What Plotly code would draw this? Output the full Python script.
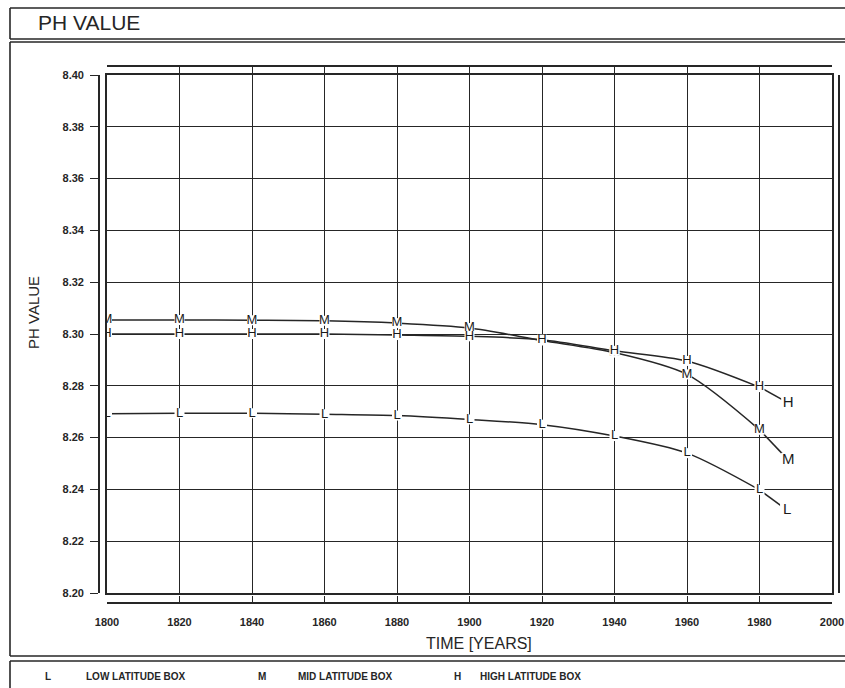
import plotly.graph_objects as go

# ---------------- data ----------------
years = [1800, 1820, 1840, 1860, 1880, 1900, 1920, 1940, 1960, 1980]
ph_low = [8.2692, 8.2694, 8.2694, 8.2690, 8.2685, 8.2670, 8.2650, 8.2606, 8.2540, 8.2398]
ph_mid = [8.3054, 8.3054, 8.3053, 8.3051, 8.3042, 8.3023, 8.2975, 8.2928, 8.2844, 8.2630]
ph_high = [8.3000, 8.3000, 8.3000, 8.3000, 8.2996, 8.2991, 8.2978, 8.2935, 8.2896, 8.2795]
series_letters = ["L", "M", "H"]
series_names = ["LOW LATITUDE BOX", "MID LATITUDE BOX", "HIGH LATITUDE BOX"]
end_label_years = [1987.6, 1987.9, 1987.9]
end_label_values = [8.2320, 8.2514, 8.2734]
x_ticks = [1800, 1820, 1840, 1860, 1880, 1900, 1920, 1940, 1960, 1980, 2000]
y_ticks = [8.20, 8.22, 8.24, 8.26, 8.28, 8.30, 8.32, 8.34, 8.36, 8.38, 8.40]
y_tick_text = ["8.20", "8.22", "8.24", "8.26", "8.28", "8.30", "8.32", "8.34", "8.36", "8.38", "8.40"]

W, H = 845, 688
INK = "#262626"
FONT = "Liberation Sans, Arial, sans-serif"


def px(x):
    return x / W


def py(y):
    return 1 - y / H


fig = go.Figure()

series = [ph_low, ph_mid, ph_high]

# curves
for vals in series:
    fig.add_trace(go.Scatter(x=years, y=vals, mode="lines",
                             line=dict(color=INK, width=1.5, shape="spline", smoothing=0.8),
                             hoverinfo="skip", showlegend=False))
# leader segments to end labels
for vals, lx, ly in zip(series, end_label_years, end_label_values):
    fig.add_trace(go.Scatter(x=[years[-1], lx], y=[vals[-1], ly], mode="lines",
                             line=dict(color=INK, width=1.5),
                             hoverinfo="skip", showlegend=False))
# letter markers
for vals, letter in zip(series, series_letters):
    fig.add_trace(go.Scatter(x=years, y=vals, mode="markers+text",
                             marker=dict(symbol="square", size=10, color="white", line=dict(width=0)),
                             text=[letter] * len(years), textposition="middle center",
                             textfont=dict(family=FONT, size=13, color="#1a1a1a"),
                             hoverinfo="skip", showlegend=False))
# end labels
fig.add_trace(go.Scatter(x=end_label_years, y=end_label_values, mode="markers+text",
                         marker=dict(symbol="square", size=14, color="white", line=dict(width=0)),
                         text=series_letters, textposition="middle center",
                         textfont=dict(family=FONT, size=15, color="#1a1a1a"),
                         hoverinfo="skip", showlegend=False))

# dummy traces so that the offset axes are drawn
fig.add_trace(go.Scatter(x=[None], y=[None], xaxis="x2", yaxis="y", showlegend=False, hoverinfo="skip"))
fig.add_trace(go.Scatter(x=[None], y=[None], xaxis="x3", yaxis="y", showlegend=False, hoverinfo="skip"))
fig.add_trace(go.Scatter(x=[None], y=[None], xaxis="x", yaxis="y2", showlegend=False, hoverinfo="skip"))
fig.add_trace(go.Scatter(x=[None], y=[None], xaxis="x", yaxis="y3", showlegend=False, hoverinfo="skip"))

xdom = [px(107), px(832)]
ydom = [py(593), py(75)]
xr = [x_ticks[0], x_ticks[-1]]
yr = [y_ticks[0], y_ticks[-1]]

fig.update_layout(
    width=W, height=H,
    margin=dict(l=0, r=0, t=0, b=0, pad=0),
    paper_bgcolor="white", plot_bgcolor="white",
    showlegend=False,
    xaxis=dict(domain=xdom, range=xr, tickvals=x_ticks, showticklabels=False, ticks="",
               showgrid=True, gridcolor=INK, gridwidth=1.2, zeroline=False,
               showline=True, mirror=True, linecolor=INK, linewidth=1.6, automargin=False),
    yaxis=dict(domain=ydom, range=yr, tickvals=y_ticks, showticklabels=False, ticks="",
               showgrid=True, gridcolor=INK, gridwidth=1.2, zeroline=False,
               showline=True, mirror=True, linecolor=INK, linewidth=1.6, automargin=False),
    xaxis2=dict(overlaying="x", anchor="free", position=py(603), side="bottom", range=xr,
                tickvals=x_ticks, ticks="inside", ticklen=6, tickwidth=1.3, tickcolor=INK,
                showline=True, linecolor=INK, linewidth=1.6, showgrid=False, zeroline=False,
                tickfont=dict(family=FONT, size=11, color=INK, weight="bold"),
                ticklabelstandoff=9, automargin=False),
    xaxis3=dict(overlaying="x", anchor="free", position=py(66), side="top", range=xr,
                tickvals=x_ticks, ticks="inside", ticklen=6, tickwidth=1.3, tickcolor=INK,
                showline=True, linecolor=INK, linewidth=1.6, showgrid=False, zeroline=False,
                showticklabels=False, automargin=False),
    yaxis2=dict(overlaying="y", anchor="free", position=px(99), side="left", range=yr,
                tickvals=y_ticks, ticktext=y_tick_text, ticks="outside", ticklen=8, tickwidth=1.3,
                tickcolor=INK, showline=True, linecolor=INK, linewidth=1.6, showgrid=False,
                zeroline=False, tickfont=dict(family=FONT, size=11, color=INK, weight="bold"),
                ticklabelstandoff=4, automargin=False),
    yaxis3=dict(overlaying="y", anchor="free", position=px(839), side="right", range=yr,
                ticks="", showticklabels=False, showline=True, linecolor=INK, linewidth=1.6,
                showgrid=False, zeroline=False, automargin=False),
)

# frame boxes (open to the right, as in the scanned page): drawn edge by edge
box_line = dict(color=INK, width=1.6)
boxes = [(8, 39), (42, 656), (661, None)]
for top, bottom in boxes:
    fig.add_shape(type="line", xref="paper", yref="paper", x0=px(10), x1=1.0,
                  y0=py(top), y1=py(top), line=box_line)
    y_end = py(bottom) if bottom is not None else 0.0
    if bottom is not None:
        fig.add_shape(type="line", xref="paper", yref="paper", x0=px(10), x1=1.0,
                      y0=y_end, y1=y_end, line=box_line)
    fig.add_shape(type="line", xref="paper", yref="paper", x0=px(10), x1=px(10),
                  y0=py(top), y1=y_end, line=box_line)

# texts
fig.add_annotation(text="PH VALUE", xref="paper", yref="paper", x=px(36), y=py(23),
                   xanchor="left", yanchor="middle", showarrow=False,
                   font=dict(family=FONT, size=21, color=INK))
fig.add_annotation(text="PH VALUE", xref="paper", yref="paper", x=px(33), y=py(313),
                   xanchor="center", yanchor="middle", showarrow=False, textangle=-90,
                   font=dict(family=FONT, size=15, color=INK))
fig.add_annotation(text="TIME [YEARS]", xref="paper", yref="paper", x=px(479), y=py(643),
                   xanchor="center", yanchor="middle", showarrow=False,
                   font=dict(family=FONT, size=16, color=INK))

legend_letter_x = [48, 262, 457]
legend_text_x = [84, 296, 478]
for letter, name, lx, tx in zip(series_letters, series_names, legend_letter_x, legend_text_x):
    fig.add_annotation(text=letter, xref="paper", yref="paper", x=px(lx), y=py(676),
                       xanchor="center", yanchor="middle", showarrow=False,
                       font=dict(family=FONT, size=10, color=INK, weight="bold"))
    fig.add_annotation(text=name, xref="paper", yref="paper", x=px(tx), y=py(676),
                       xanchor="left", yanchor="middle", showarrow=False,
                       font=dict(family=FONT, size=10, color=INK, weight="bold"))

fig.write_html("out.html", config={"displayModeBar": False},
               post_script="document.body.style.margin='0px';document.body.style.overflow='hidden';")
